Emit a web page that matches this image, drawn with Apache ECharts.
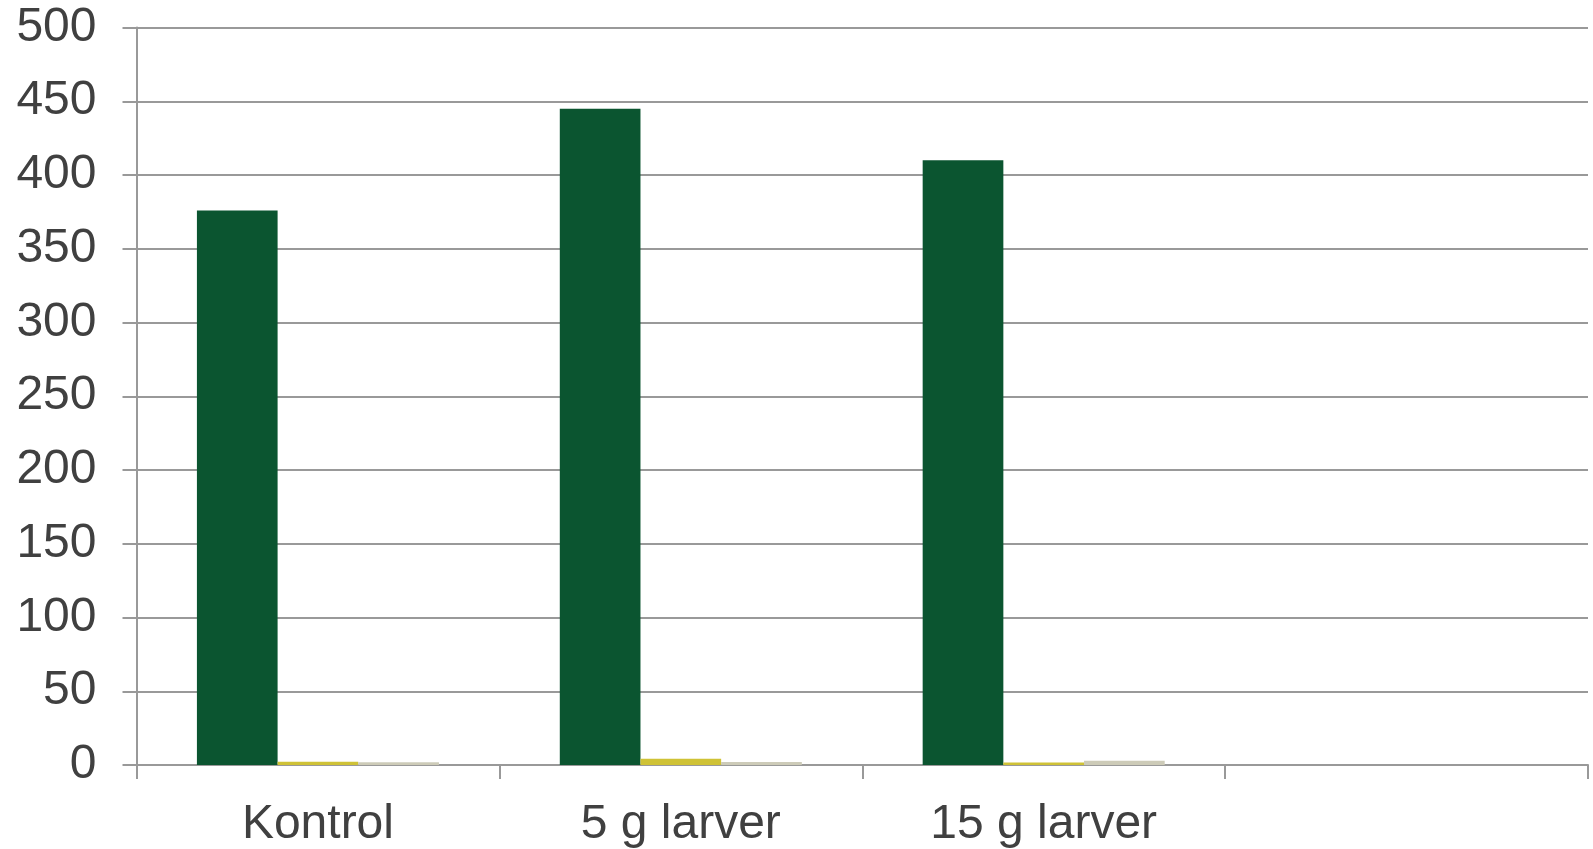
<!DOCTYPE html>
<html>
<head>
<meta charset="utf-8">
<script src="https://cdn.jsdelivr.net/npm/echarts@6/dist/echarts.min.js"></script>
<style>
html,body{margin:0;padding:0;background:#fff;}
#chart{width:1593px;height:849px;}
</style>
</head>
<body>
<div id="chart"></div>
<script>
const categories = ['Kontrol', '5 g larver', '15 g larver', ''];
const seriesA = [376, 445, 410, null];
const seriesB = [2.2, 4.3, 1.7, null];
const seriesC = [1.8, 2.0, 2.9, null];
const yTicks = { min: 0, max: 500, interval: 50 };

const chart = echarts.init(document.getElementById('chart'), null, { renderer: 'canvas' });
const axisColor = '#999999';
const textColor = '#404040';
const font = 'Liberation Sans, Arial, sans-serif';

chart.setOption({
  animation: false,
  backgroundColor: '#ffffff',
  grid: { left: 136.5, right: 5, top: 27.5, bottom: 82.5, containLabel: false },
  xAxis: {
    type: 'category',
    data: categories,
    boundaryGap: true,
    axisLine: { show: true, lineStyle: { color: axisColor, width: 2 } },
    axisTick: { show: true, length: 14, alignWithLabel: false, lineStyle: { color: axisColor, width: 2 } },
    axisLabel: { color: textColor, fontSize: 48, fontFamily: font, margin: 36, interval: 0 },
    splitLine: { show: false }
  },
  yAxis: {
    type: 'value',
    min: yTicks.min, max: yTicks.max, interval: yTicks.interval,
    axisLine: { show: true, lineStyle: { color: axisColor, width: 2 } },
    axisTick: { show: true, length: 14, lineStyle: { color: axisColor, width: 2 } },
    axisLabel: { color: textColor, fontSize: 48, fontFamily: font, margin: 40 },
    splitLine: { show: true, lineStyle: { color: axisColor, width: 2 } }
  },
  series: [
    { type: 'bar', data: seriesA, itemStyle: { color: '#0b5530' }, barGap: '0%', barCategoryGap: '33.3%' },
    { type: 'bar', data: seriesB, itemStyle: { color: '#cfc236' }, barGap: '0%', barCategoryGap: '33.3%' },
    { type: 'bar', data: seriesC, itemStyle: { color: '#cdcbb8' }, barGap: '0%', barCategoryGap: '33.3%' }
  ]
});
</script>
</body>
</html>
